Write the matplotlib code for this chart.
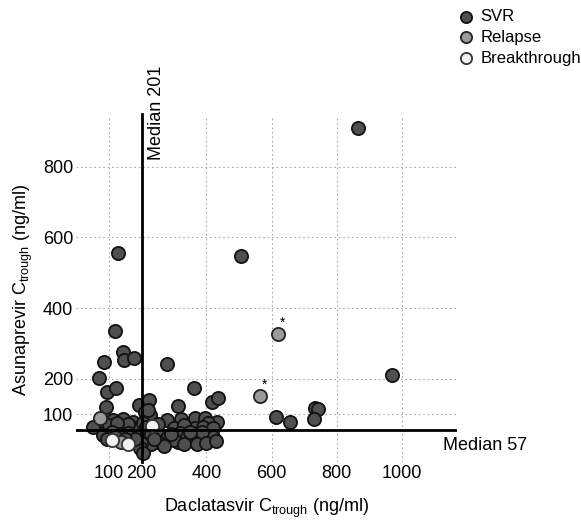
import numpy as np
import matplotlib
matplotlib.use("Agg")
import matplotlib.pyplot as plt

plt.rcParams['font.family'] = ['Liberation Sans', 'DejaVu Sans']
plt.rcParams['mathtext.default'] = 'regular'

# SVR points (daclatasvir, asunaprevir) in ng/ml
svr_x = [866, 129, 507, 970, 120, 144, 147, 178, 86, 279, 71, 95, 123, 362, 92, 313,
         418, 436, 194, 224, 212, 227, 614, 657, 734, 743, 731,
         52, 89, 114, 144, 175, 135, 181, 206, 221, 280, 322, 365, 396, 433, 405, 365,
         100, 160, 125, 215, 250, 300, 330, 390, 420,
         83, 160, 110, 135, 190, 210, 230, 260, 280, 319, 313, 359, 390, 421, 387, 340,
         300, 250, 230, 270, 330, 370, 400, 430, 200, 195, 205, 180, 150, 120, 95, 240,
         350, 290]
svr_y = [909, 556, 547, 211, 335, 276, 255, 259, 248, 242, 202, 163, 174, 174, 120, 124,
         135, 146, 126, 142, 106, 98, 92, 78, 118, 115, 87,
         64, 78, 84, 87, 78, 64, 61, 75, 112, 84, 87, 89, 89, 78, 75, 61,
         70, 72, 75, 65, 72, 62, 70, 65, 62,
         41, 47, 50, 45, 40, 35, 45, 40, 33, 47, 22, 27, 36, 36, 50, 35,
         28, 22, 15, 12, 15, 15, 20, 25, 20, 5, -8, 30, 30, 35, 30, 30,
         50, 45]

relapse_x = [74, 138, 565, 620]
relapse_y = [90, 22, 151, 327]

breakthrough_x = [110, 160, 233]
breakthrough_y = [27, 16, 68]

median_dcv = 201
median_asv = 57

xticks = [100, 200, 400, 600, 800, 1000]
yticks = [100, 200, 400, 600, 800]

fig = plt.figure(figsize=(5.81, 5.21), dpi=100)
ax = fig.add_axes([0.131, 0.113, 0.656, 0.662])

for s in ax.spines.values():
    s.set_visible(False)

ax.grid(True, linestyle=(0, (1.5, 2.5)), color='#aaaaaa', linewidth=0.8)
ax.set_axisbelow(True)

ms = 90
ax.scatter(svr_x, svr_y, s=ms, c='#4f4f4f', edgecolors='#111111', linewidths=1.3,
           label='SVR', zorder=3)
ax.scatter(relapse_x, relapse_y, s=ms, c='#9a9a9a', edgecolors='#222222', linewidths=1.3,
           label='Relapse', zorder=4)
ax.scatter(breakthrough_x, breakthrough_y, s=ms, c='#f2f2f2', edgecolors='#333333',
           linewidths=1.3, label='Breakthrough', zorder=4)

# asterisks over relapse points
for x, y in zip(relapse_x[2:], relapse_y[2:]):
    ax.annotate('*', (x, y), xytext=(3, 3), textcoords='offset points',
                ha='center', va='bottom', fontsize=10)

ax.set_xlim(0, 1170)
ax.set_ylim(-35, 940)

ax.plot([median_dcv, median_dcv], [-35, 950], color='black', linewidth=2, zorder=5,
        clip_on=False)
ax.plot([0, 1170], [median_asv, median_asv], color='black', linewidth=2, zorder=5)

ax.text(median_dcv + 45, 818, 'Median %d' % median_dcv, rotation=90, ha='center',
        va='bottom', fontsize=13)
ax.text(1127, 13, 'Median %d' % median_asv, ha='left', va='center', fontsize=13,
        clip_on=False)

ax.set_xticks(xticks)
ax.set_xticklabels([str(t) for t in xticks])
ax.set_yticks(yticks)
ax.set_yticklabels([str(t) for t in yticks])
ax.tick_params(length=0, labelsize=13, pad=2)

ax.set_xlabel('Daclatasvir C$_{trough}$ (ng/ml)', fontsize=13, labelpad=11)
ax.set_ylabel('Asunaprevir C$_{trough}$ (ng/ml)', fontsize=13, labelpad=6)

fig.legend(loc='upper left', bbox_to_anchor=(458 / 581, 1 - 9 / 521), frameon=False,
           fontsize=12, handlelength=1, handletextpad=0.35, labelspacing=0.35,
           borderaxespad=0, borderpad=0, markerscale=0.85, scatterpoints=1)

fig.savefig('out.png', dpi=100)
